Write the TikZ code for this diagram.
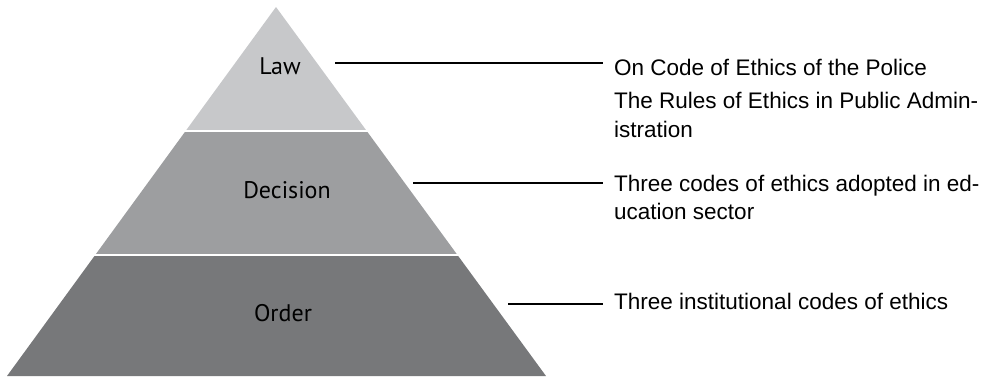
\documentclass[tikz,border=0pt]{standalone}
\usepackage{xcolor}
\usepackage{fontspec}
\setmainfont{Liberation Sans}
\newfontfamily\pyrfont{PT Sans}
\usepackage{tikz}
\definecolor{lawgray}{HTML}{C7C8CA}
\definecolor{decgray}{HTML}{9D9EA0}
\definecolor{ordgray}{HTML}{77787A}

\begin{document}
\begin{tikzpicture}[x=1pt, y=-1pt,
            level/.style={font=\pyrfont\fontsize{24}{28}\selectfont},
            codes/.style={anchor=base west, inner xsep=11pt, inner ysep=0pt, align=left, font=\fontsize{22.5}{28.5}\selectfont},
            link/.style={line width=2.2pt}]
            \useasboundingbox (0,0) rectangle (1002,376);
            \begin{scope}
                \clip (276,7) -- (546,376) -- (7,376) -- cycle;
                \fill[lawgray] (0,0) rectangle (560,129.5);
                \fill[decgray] (0,132) rectangle (560,253.5);
                \fill[ordgray] (0,256) rectangle (560,380);
            \end{scope}
            \node[level] (law) at (280,66) {Law};
            \node[level] (decision) at (287,190) {Decision};
            \node[level] (order) at (283,313) {Order};
            \node[codes] (police) at (603,75) {On Code of Ethics of the Police};
            \node[codes] (rules) at (603,137) {The Rules of Ethics in Public Admin-\\istration};
            \node[codes] (edu) at (603,219.5) {Three codes of ethics adopted in ed-\\ucation sector};
            \node[codes] (inst) at (603,309) {Three institutional codes of ethics};
            \coordinate (lawstart) at (335,63);
            \coordinate (decstart) at (413,183);
            \coordinate (ordstart) at (508,304);
            \draw[link] (lawstart) -- (lawstart -| police.west);
            \draw[link] (decstart) -- (decstart -| edu.west);
            \draw[link] (ordstart) -- (ordstart -| inst.west);
        \end{tikzpicture}
\end{document}
